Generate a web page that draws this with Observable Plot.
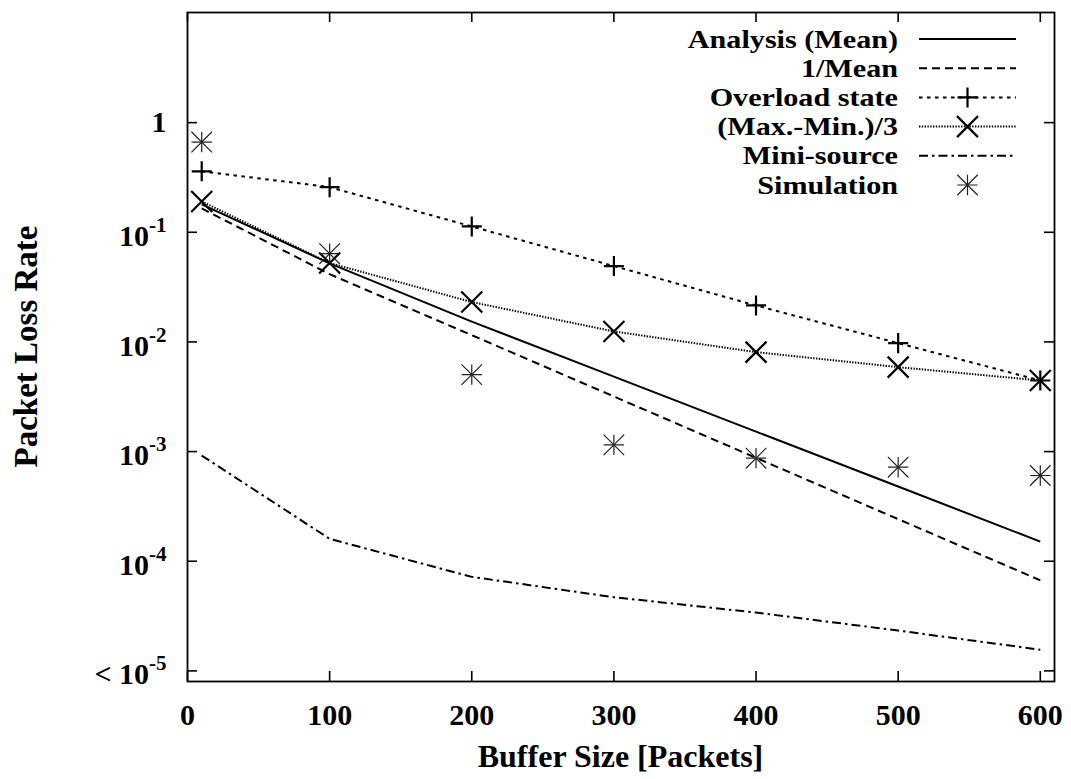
<!DOCTYPE html>
<html><head><meta charset="utf-8">
<script src="https://cdn.jsdelivr.net/npm/d3@7"></script>
<script src="https://cdn.jsdelivr.net/npm/@observablehq/plot@0.6"></script>
<style>
html,body{margin:0;padding:0;background:#fff;}
#chart svg{display:block;}
</style>
</head><body><div id="chart"></div>
<script>
// ---- data ----
const bufferSizes   = [10, 100, 200, 300, 400, 500, 600];
const analysisMean  = [0.18, 0.052, 0.0153, 0.00483, 0.00152, 0.00048, 0.000151];
const oneOverMean   = [0.165, 0.0415, 0.01153, 0.00318, 0.000877, 0.000242, 0.000067];
const overloadState = [0.36, 0.258, 0.113, 0.0492, 0.0215, 0.00975, 0.00445];
const maxMinThird   = [0.191, 0.0524, 0.0231, 0.01247, 0.00807, 0.00589, 0.00445];
const miniSource    = [0.00092, 0.00016, 0.000072, 0.000047, 0.000034, 0.0000233, 0.0000156];
const simulation    = [0.665, 0.0638, 0.00503, 0.00115, 0.00087, 0.00072, 0.000605];

const seriesNames = ["Analysis (Mean)", "1/Mean", "Overload state", "(Max.-Min.)/3", "Mini-source", "Simulation"];

const xTicks = [0, 100, 200, 300, 400, 500, 600];
const xTickLabels = ["0", "100", "200", "300", "400", "500", "600"];
const yTicks = [1, 1e-1, 1e-2, 1e-3, 1e-4, 1e-5];
const yTickLabels = ["1", "10^-1", "10^-2", "10^-3", "10^-4", "< 10^-5"];

const xTitle = "Buffer Size [Packets]";
const yTitle = "Packet Loss Rate";

// ---- layout / style ----
const W = 1071, H = 779;
const mL = 187, mR = 17, mT = 12, mB = 98;
const plotW = W - mL - mR, plotH = H - mT - mB;
const tickLen = 10;
const FONT = "'Liberation Serif', 'Times New Roman', Times, serif";

const styles = {
  [seriesNames[0]]: {dash: null, line: true, sym: null},
  [seriesNames[1]]: {dash: "8,5", line: true, sym: null},
  [seriesNames[2]]: {dash: "3.5,4.5", line: true, sym: "plus"},
  [seriesNames[3]]: {dash: "1.4,1.4", line: true, sym: "times"},
  [seriesNames[4]]: {dash: "9,4,2.5,4", line: true, sym: null},
  [seriesNames[5]]: {dash: null, line: false, sym: "star"}
};
const seriesValues = [analysisMean, oneOverMean, overloadState, maxMinThird, miniSource, simulation];

const table = [];
seriesNames.forEach((name, s) => {
  bufferSizes.forEach((b, i) => table.push({series: name, x: b, y: seriesValues[s][i]}));
});
const of = name => table.filter(d => d.series === name);

const marks = [];
// inward ticks on all four sides
marks.push(Plot.tickX(xTicks, {x: d => d, insetTop: plotH - tickLen, stroke: "black", strokeWidth: 1.6}));
marks.push(Plot.tickX(xTicks, {x: d => d, insetBottom: plotH - tickLen, stroke: "black", strokeWidth: 1.6}));
marks.push(Plot.tickY(yTicks, {y: d => d, insetRight: plotW - tickLen, stroke: "black", strokeWidth: 1.6}));
marks.push(Plot.tickY(yTicks, {y: d => d, insetLeft: plotW - tickLen, stroke: "black", strokeWidth: 1.6}));

seriesNames.forEach(name => {
  const st = styles[name];
  if (st.line) {
    marks.push(Plot.line(of(name), {x: "x", y: "y", stroke: "black", strokeWidth: 2,
      strokeDasharray: st.dash || undefined, strokeLinecap: "butt", curve: "linear"}));
  }
});
const symR = {plus: 6.5, times: 9.6};
seriesNames.forEach(name => {
  const st = styles[name];
  if (st.sym === "plus" || st.sym === "times") {
    marks.push(Plot.dot(of(name), {x: "x", y: "y", symbol: st.sym, r: symR[st.sym], stroke: "black", fill: "none", strokeWidth: 2.2}));
  } else if (st.sym === "star") {
    marks.push(Plot.dot(of(name), {x: "x", y: "y", symbol: "plus", r: 6.6, stroke: "#222", fill: "none", strokeWidth: 1.2}));
    marks.push(Plot.dot(of(name), {x: "x", y: "y", symbol: "times", r: 9.4, stroke: "#222", fill: "none", strokeWidth: 1.2}));
  }
});
marks.push(Plot.frame({stroke: "black", strokeWidth: 1.8}));
marks.push(Plot.axisX(xTicks, {anchor: "bottom", tickSize: 0, tickPadding: 22,
  tickFormat: d => xTickLabels[xTicks.indexOf(d)], fontSize: 30, label: null}));
marks.push(Plot.axisY(yTicks, {anchor: "left", tickSize: 0, tickPadding: 21,
  tickFormat: d => yTickLabels[yTicks.indexOf(d)], fontSize: 30, label: null}));

const svg = Plot.plot({
  width: W, height: H,
  marginLeft: mL, marginRight: mR, marginTop: mT, marginBottom: mB,
  style: {fontFamily: FONT, fontWeight: "bold", fontSize: "30px", background: "white", color: "black"},
  x: {domain: [0, 610], label: null},
  y: {type: "log", domain: [8e-6, 10.1], label: null},
  marks
});
document.getElementById("chart").appendChild(svg);

const root = d3.select(svg);
// superscripts on y tick labels
root.selectAll('g[aria-label="y-axis tick label"] text').each(function () {
  const t = this.textContent;
  const i = t.indexOf("^");
  const sel = d3.select(this);
  if (i >= 0) {
    const base = t.slice(0, i), exp = t.slice(i + 1);
    sel.text(null);
    sel.append("tspan").attr("dy", 4).text(base);
    sel.append("tspan").attr("dy", -14).attr("font-size", 21).text(exp);
  }
});

// axis titles
root.append("text").attr("x", (mL + W - mR) / 2).attr("y", 767)
  .attr("text-anchor", "middle").attr("font-size", 32).attr("font-weight", "bold")
  .attr("font-family", FONT).attr("fill", "black").text(xTitle);
root.append("text").attr("transform", `translate(37,${(mT + H - mB) / 2}) rotate(-90)`)
  .attr("text-anchor", "middle").attr("font-size", 33).attr("font-weight", "bold")
  .attr("font-family", FONT).attr("fill", "black").text(yTitle);

// legend (gnuplot style, top right inside the frame)
const lg = root.append("g").attr("font-family", FONT).attr("font-weight", "bold").attr("font-size", 26);
const rowY0 = 39, rowStep = 29.2, textX = 898, lineX1 = 919, lineX2 = 1016, symX = 967.5;
seriesNames.forEach((name, k) => {
  const st = styles[name];
  const cy = rowY0 + k * rowStep;
  lg.append("text").attr("transform", `translate(${textX},${cy + 8.5}) scale(1.16,1)`)
    .attr("text-anchor", "end").attr("fill", "black").text(name);
  if (st.line) {
    lg.append("line").attr("x1", lineX1).attr("x2", lineX2).attr("y1", cy).attr("y2", cy)
      .attr("stroke", "black").attr("stroke-width", 2).attr("stroke-dasharray", st.dash || null);
  }
  const drawSym = (type, r, sw, col) => lg.append("path")
    .attr("d", d3.symbol().type(type).size(Math.PI * r * r)())
    .attr("transform", `translate(${symX},${cy})`).attr("fill", "none").attr("stroke", col).attr("stroke-width", sw);
  if (st.sym === "plus") drawSym(d3.symbolPlus, symR.plus, 2.2, "black");
  if (st.sym === "times") drawSym(d3.symbolTimes, symR.times, 2.2, "black");
  if (st.sym === "star") { drawSym(d3.symbolPlus, 6.6, 1.2, "#222"); drawSym(d3.symbolTimes, 9.4, 1.2, "#222"); }
});
</script>
</body></html>
